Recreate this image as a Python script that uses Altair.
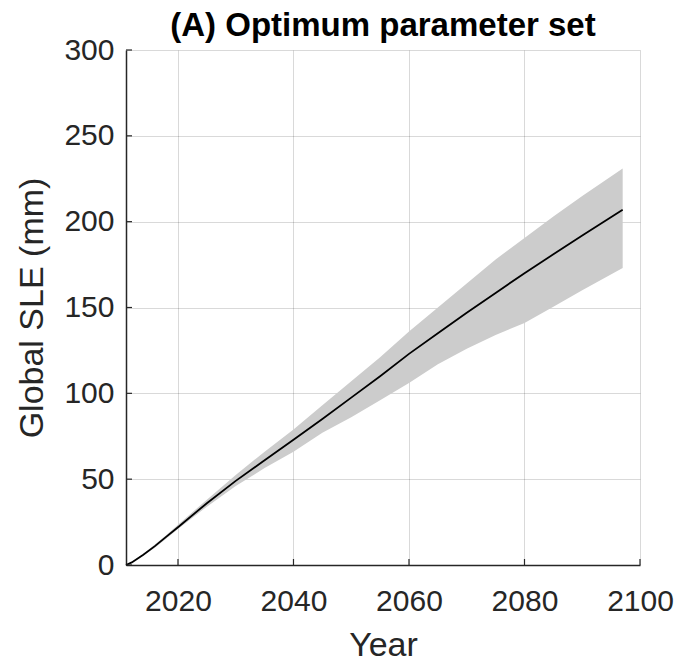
import altair as alt
import pandas as pd

# Projected global sea-level equivalent (mm) from the optimum parameter set
years = [2011, 2012, 2014, 2016, 2018, 2020, 2025, 2030, 2035, 2040, 2045,
         2050, 2055, 2060, 2065, 2070, 2075, 2080, 2085, 2090, 2097]
sle_mid = [0, 1.5, 6, 11, 16.5, 22, 36, 49, 61, 73, 85,
           97.5, 110, 123, 135, 147, 158.5, 170, 181, 192, 207]
sle_hi = [0, 1.7, 6.5, 12, 17.5, 23.5, 38, 52.5, 66, 79, 93,
          107, 121, 136, 150, 164, 178, 190.5, 203, 215, 231]
sle_lo = [0, 1.3, 5.5, 10, 15.5, 21, 34, 46, 56.5, 66, 77,
          86, 96, 106, 117, 126, 134, 141, 150.5, 160, 173]

x_ticks = [2020, 2040, 2060, 2080, 2100]
y_ticks = [0, 50, 100, 150, 200, 250, 300]

W, H = 514, 515
FONT = "Liberation Sans"
INK = "#262626"

df = pd.DataFrame({"year": years, "mid": sle_mid, "hi": sle_hi, "lo": sle_lo})

x_scale = alt.Scale(domain=[2011, 2100], nice=False, zero=False)
y_scale = alt.Scale(domain=[0, 300], nice=False)

x_axis = alt.Axis(values=x_ticks, format="d", title="Year", grid=True,
                  tickSize=0, labelPadding=21, titlePadding=12,
                  labelFlush=False, labelOverlap=False)
y_axis = alt.Axis(values=y_ticks, title="Global SLE (mm)", grid=True,
                  tickSize=0, labelPadding=12, titlePadding=14,
                  labelFlush=False, labelOverlap=False)

band = alt.Chart(df).mark_area(color="#cccccc", opacity=1).encode(
    x=alt.X("year:Q", scale=x_scale, axis=x_axis),
    y=alt.Y("lo:Q", scale=y_scale, axis=y_axis),
    y2="hi:Q",
)

line = alt.Chart(df).mark_line(color="black", strokeWidth=1.8).encode(
    x=alt.X("year:Q", scale=x_scale),
    y=alt.Y("mid:Q", scale=y_scale),
)

# inward-pointing tick marks on the left and bottom axes
yt = alt.Chart(pd.DataFrame({"v": y_ticks})).mark_rule(color=INK, strokeWidth=1.2).encode(
    y=alt.Y("v:Q", scale=y_scale), x=alt.value(0), x2=alt.value(6)
)
xt = alt.Chart(pd.DataFrame({"v": x_ticks})).mark_rule(color=INK, strokeWidth=1.2).encode(
    x=alt.X("v:Q", scale=x_scale), y=alt.value(H), y2=alt.value(H - 6)
)

chart = alt.layer(band, line, yt, xt).properties(
    width=W, height=H,
    background="white",
    title=alt.TitleParams("(A) Optimum parameter set", fontSize=33, font=FONT,
                          fontWeight="bold", color="black", anchor="middle",
                          offset=8, dy=16),
    autosize=alt.AutoSizeParams(type="none"),
    padding={"left": 126, "top": 50, "right": 39, "bottom": 101},
).configure_view(stroke=None).configure_axis(
    labelFont=FONT, titleFont=FONT, labelFontSize=30, titleFontSize=34,
    labelColor=INK, titleColor=INK, titleFontWeight="normal",
    domainColor=INK, domainWidth=1.5,
    gridColor="black", gridOpacity=0.15, gridWidth=1, zindex=1,
)

chart.save("out.html", embed_options={"renderer": "svg", "actions": False})
